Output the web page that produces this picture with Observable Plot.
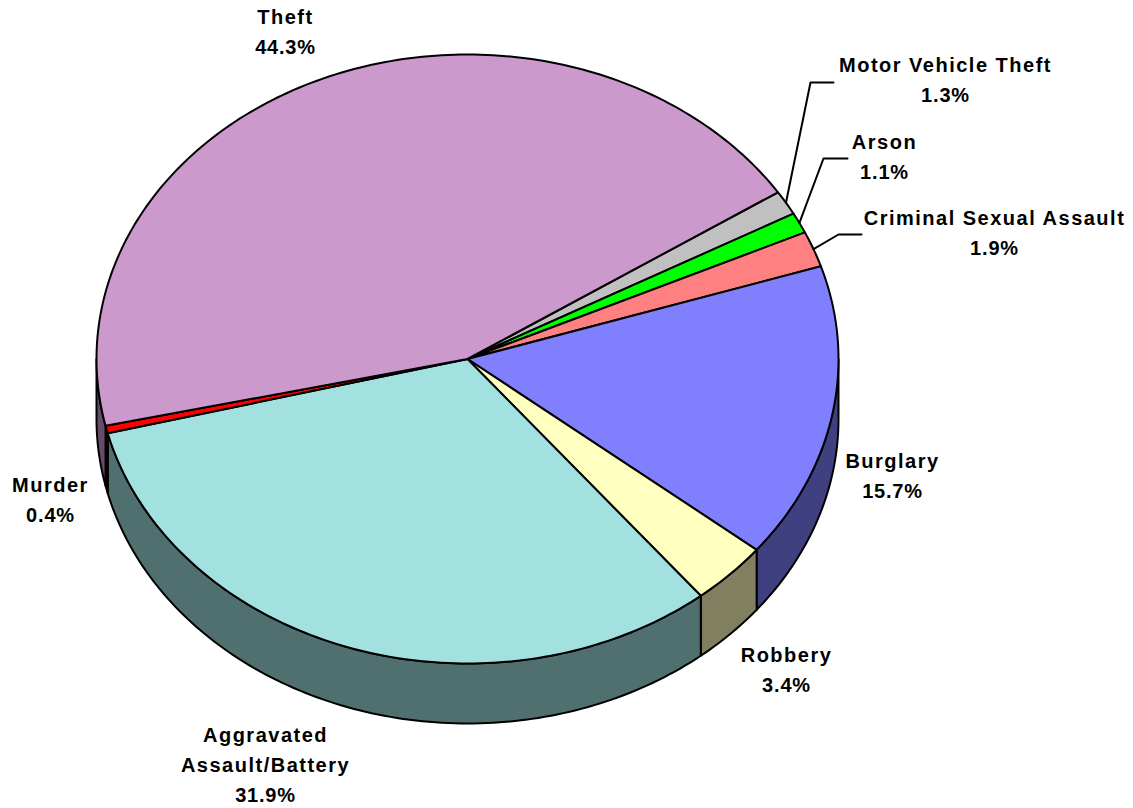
<!DOCTYPE html>
<html>
<head>
<meta charset="utf-8">
<script src="https://cdn.jsdelivr.net/npm/d3@7"></script>
<script src="https://cdn.jsdelivr.net/npm/@observablehq/plot@0.6"></script>
<style>
html,body{margin:0;padding:0;background:#fff}
svg{display:block}
</style>
</head>
<body>
<div id="chart"></div>
<script>
// Data, clockwise from the Motor Vehicle Theft slice
const categories = ["Motor Vehicle Theft","Arson","Criminal Sexual Assault","Burglary","Robbery","Aggravated Assault/Battery","Murder","Theft"];
const shares = [1.3,1.1,1.9,15.7,3.4,31.9,0.4,44.3];
const labelLines = [["Motor Vehicle Theft"],["Arson"],["Criminal Sexual Assault"],["Burglary"],["Robbery"],["Aggravated","Assault/Battery"],["Murder"],["Theft"]];

// Colours
const topColors = ["#c0c0c0","#00ff00","#ff8080","#8080ff","#ffffc0","#a3e0e0","#ff0000","#cc99cc"];
const sideColors = ["#606060","#008000","#804040","#404080","#808060","#507070","#800000","#664c66"];

// Layout of the 3D pie and its annotations
const W = 1133, H = 808;
const cx = 467, cy = 358.5, rx = 371, ry = 304.5, depth = 60, startAngle = 56.8;
const lineStep = 30;
const labelX = [945,884,994,892,786,265,50,285];
const labelTop = [65,142,218,461,655,735,485,17];
const leaderElbows = {"Motor Vehicle Theft":[[810,82],[833,82]],"Arson":[[823,158],[847,158]],"Criminal Sexual Assault":[[838,234],[861,234]]};

const rim = (a, dy = 0) => {
  const t = a * Math.PI / 180;
  return [cx + rx * Math.sin(t), cy - ry * Math.cos(t) + dy];
};
const arcPts = (a0, a1, dy = 0) => {
  const n = Math.max(2, Math.ceil((a1 - a0) / 1) + 1), out = [];
  for (let i = 0; i < n; i++) out.push(rim(a0 + (a1 - a0) * i / (n - 1), dy));
  return out;
};

const total = d3.sum(shares);
let acc = startAngle;
const slices = categories.map((name, i) => {
  const a0 = acc, a1 = acc + shares[i] / total * 360;
  acc = a1;
  return {name, i, a0, a1, mid: (a0 + a1) / 2};
});

const topRows = [], sideRows = [], leaderRows = [];
for (const s of slices) {
  const pts = [[cx, cy], ...arcPts(s.a0, s.a1), [cx, cy]];
  pts.forEach(p => topRows.push({k: s.name, x: p[0], y: p[1], c: topColors[s.i]}));
  const b0 = Math.max(s.a0, 90), b1 = Math.min(s.a1, 270);
  if (b1 > b0) {
    const upper = arcPts(b0, b1), lower = arcPts(b0, b1, depth).reverse();
    [...upper, ...lower, upper[0]].forEach(p => sideRows.push({k: s.name, x: p[0], y: p[1], c: sideColors[s.i]}));
  }
  if (leaderElbows[s.name]) {
    [rim(s.mid), ...leaderElbows[s.name]].forEach(p => leaderRows.push({k: s.name, x: p[0], y: p[1]}));
  }
}

const nameRows = [], pctRows = [];
for (const s of slices) {
  const lines = labelLines[s.i];
  lines.forEach((t, j) => nameRows.push({x: labelX[s.i], y: labelTop[s.i] + j * lineStep, text: t}));
  pctRows.push({x: labelX[s.i], y: labelTop[s.i] + lines.length * lineStep, text: shares[s.i].toFixed(1) + "%"});
}

const textStyle = {
  x: "x", y: "y", text: "text", textAnchor: "middle",
  fontFamily: "'Liberation Sans', Arial, sans-serif", fontWeight: "bold", fontSize: 20,
  fill: "#000", stroke: "none"
};

const chart = Plot.plot({
  width: W, height: H,
  marginTop: 0, marginRight: 0, marginBottom: 0, marginLeft: 0,
  x: {domain: [0, W], range: [0, W], axis: null},
  y: {domain: [0, H], range: [0, H], axis: null},
  color: {type: "identity"},
  style: {background: "#fff"},
  marks: [
    Plot.line(sideRows, {x: "x", y: "y", z: "k", fill: "c", stroke: "#000", strokeWidth: 2, strokeLinejoin: "round"}),
    Plot.line(topRows, {x: "x", y: "y", z: "k", fill: "c", stroke: "#000", strokeWidth: 2, strokeLinejoin: "round"}),
    Plot.line(leaderRows, {x: "x", y: "y", z: "k", stroke: "#000", strokeWidth: 2}),
    Plot.text(nameRows, {...textStyle, className: "names"}),
    Plot.text(pctRows, {...textStyle, className: "pcts"})
  ]
});
document.getElementById("chart").appendChild(chart);
const st = document.createElement("style");
st.textContent = ".names text{letter-spacing:1.5px}.pcts text{letter-spacing:.8px}";
document.head.appendChild(st);
</script>
</body>
</html>
